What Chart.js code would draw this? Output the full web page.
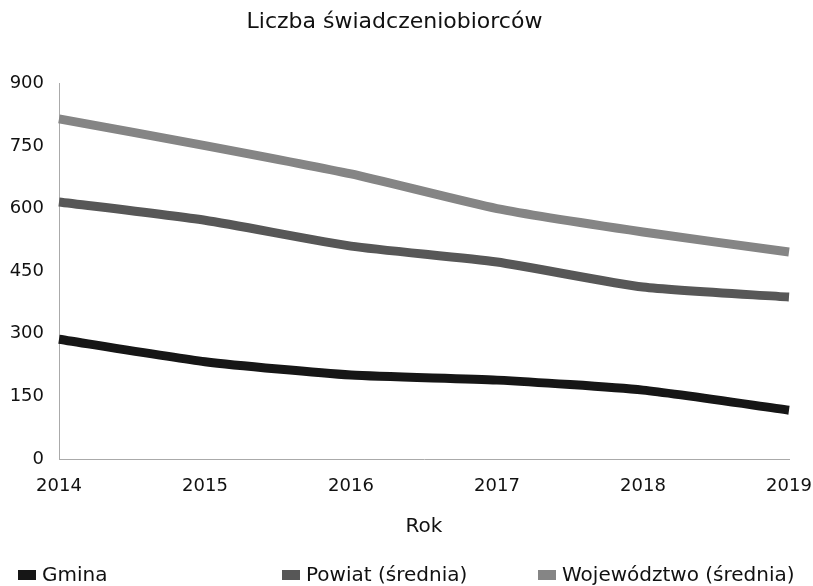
<!DOCTYPE html>
<html>
<head>
<meta charset="utf-8">
<script src="https://cdn.jsdelivr.net/npm/chart.js@4/dist/chart.umd.min.js"></script>
<style>
  html, body { margin: 0; padding: 0; background: #fff; }
  #wrap { position: relative; width: 813px; height: 586px; }
  #legend { position: absolute; left: 0; top: 562px; width: 813px; height: 24px;
            font-family: "DejaVu Sans", sans-serif; font-size: 20px; color: #111; }
  .item { position: absolute; top: 0; white-space: nowrap; line-height: 24px; }
  .box { position: absolute; left: 0; top: 8px; width: 18px; height: 10px; }
  .lbl { position: absolute; left: 24px; top: 0; }
</style>
</head>
<body>
<div id="wrap">
  <canvas id="c" width="813" height="586"></canvas>
  <div id="legend"></div>
</div>
<script>
const years = ['2014', '2015', '2016', '2017', '2018', '2019'];
const gmina = [287, 233, 201, 189, 165, 117];
const powiat = [616, 572, 510, 472, 412, 388];
const wojewodztwo = [815, 751, 683, 600, 544, 496];
const seriesNames = ['Gmina', 'Powiat (średnia)', 'Województwo (średnia)'];
const yTicks = [0, 150, 300, 450, 600, 750, 900];
const colors = ['#161616', '#575757', '#858585'];
const legendLefts = [18, 282, 538];

const FONT = '"DejaVu Sans", sans-serif';

const chart = new Chart(document.getElementById('c'), {
  type: 'line',
  data: {
    labels: years,
    datasets: [gmina, powiat, wojewodztwo].map((d, i) => ({
      label: seriesNames[i],
      data: d,
      borderColor: colors[i],
      backgroundColor: colors[i],
      borderWidth: 9,
      pointRadius: 0,
      tension: 0.2,
      borderCapStyle: 'butt',
      fill: false
    }))
  },
  options: {
    responsive: false,
    animation: false,
    devicePixelRatio: 1,
    layout: { padding: { left: 0, right: 24, top: 0, bottom: 40 } },
    plugins: {
      legend: { display: false },
      tooltip: { enabled: false },
      title: {
        display: true,
        text: 'Liczba świadczeniobiorców',
        color: '#111',
        font: { family: FONT, size: 22, weight: 'normal' },
        padding: { top: 9, bottom: 48 }
      }
    },
    scales: {
      x: {
        type: 'category',
        offset: false,
        grid: { display: false, drawTicks: false },
        border: { display: true, color: '#aaa', width: 1 },
        ticks: { color: '#111', font: { family: FONT, size: 18 }, padding: 17, maxRotation: 0, autoSkip: false },
        title: { display: true, text: 'Rok', color: '#111', font: { family: FONT, size: 20 }, padding: { top: 0, bottom: 7 } },
        afterFit: s => { s.height = 87; s.paddingLeft = 0; s.paddingRight = 0; }
      },
      y: {
        min: 0,
        max: 900,
        afterBuildTicks: s => { s.ticks = yTicks.map(v => ({ value: v })); },
        grid: { display: false, drawTicks: false },
        border: { display: true, color: '#aaa', width: 1 },
        ticks: { color: '#111', font: { family: FONT, size: 18 }, padding: 15 },
        afterFit: s => { s.width = 59; s.paddingTop = 0; s.paddingBottom = 0; }
      }
    }
  }
});

const legendEl = document.getElementById('legend');
chart.data.datasets.forEach((ds, i) => {
  const item = document.createElement('div');
  item.className = 'item';
  item.style.left = legendLefts[i] + 'px';
  const box = document.createElement('span');
  box.className = 'box';
  box.style.background = ds.borderColor;
  const lbl = document.createElement('span');
  lbl.className = 'lbl';
  lbl.textContent = ds.label;
  item.appendChild(box);
  item.appendChild(lbl);
  legendEl.appendChild(item);
});
</script>
</body>
</html>
